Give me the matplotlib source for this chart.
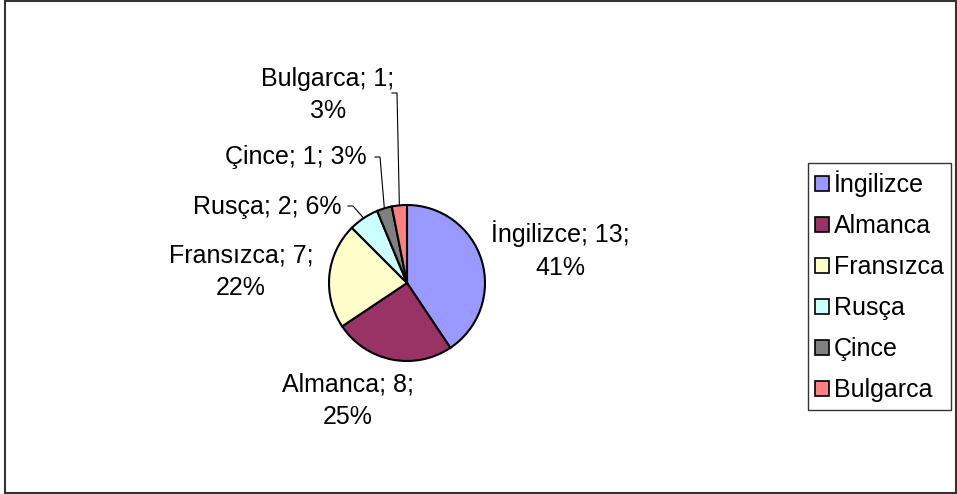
import numpy as np
import matplotlib
matplotlib.use('Agg')
import matplotlib.pyplot as plt
from matplotlib.patches import Rectangle, Patch

# Data
languages = ["İngilizce", "Almanca", "Fransızca", "Rusça", "Çince", "Bulgarca"]
counts = [13, 8, 7, 2, 1, 1]
percents = [41, 25, 22, 6, 3, 3]
colors = ["#9999FF", "#993366", "#FFFFCC", "#CCFFFF", "#808080", "#FF8080"]

plt.rcParams['font.family'] = ['Liberation Sans', 'DejaVu Sans']
size = 18

W, H = 957, 494
fig = plt.figure(figsize=(W / 100, H / 100), dpi=100)
ax = fig.add_axes([0, 0, 1, 1])

cx, cy, r = 407, H - 283, 78
wedges, _ = ax.pie(counts, colors=colors, startangle=90, counterclock=False,
                   center=(cx, cy), radius=r,
                   wedgeprops=dict(edgecolor='black', linewidth=1.5))
ax.set_xlim(0, W)
ax.set_ylim(0, H)
ax.set_aspect('auto')
ax.axis('off')

# label text = "name; count;\npercent%" (placement in pixels from top-left)
label_text = []
for name, c, p in zip(languages, counts, percents):
    s = "%s; %d; %d%%" % (name, c, p)
    if name not in ("Rusça", "Çince"):
        s = "%s; %d;\n%d%%" % (name, c, p)
    label_text.append(s)
label_pos = [(560, 250), (348, 401), (241, 272), (267, 207), (296, 157), (328, 95)]
# leader lines for small slices: (start of tick, bend point)
leaders = {3: ((348, 206), (353, 206)),
           4: ((375, 157), (380, 157)),
           5: ((392, 93), (397, 93))}

for i, w in enumerate(wedges):
    lx, ly = label_pos[i]
    ax.text(lx, H - ly, label_text[i], ha='center', va='center',
            fontsize=size, linespacing=1.45)
    if i in leaders:
        mid = np.deg2rad((w.theta1 + w.theta2) / 2)
        ex, ey = cx + r * np.cos(mid), cy + r * np.sin(mid)
        (x0, y0), (x1, y1) = leaders[i]
        ax.plot([x0, x1, ex], [H - y0, H - y1, ey], color='black', lw=0.8)

handles = [Patch(facecolor=c, edgecolor='black', linewidth=1.2) for c in colors]
leg = fig.legend(handles, languages, loc='center',
                 bbox_to_anchor=(879.5 / W, 1 - 286.5 / H),
                 fontsize=size, frameon=True, fancybox=False,
                 handlelength=0.55, handleheight=0.55, handletextpad=0.2,
                 labelspacing=0.68, borderpad=0.3, borderaxespad=0)
leg.get_frame().set_edgecolor('black')
leg.get_frame().set_linewidth(1.0)

# outer chart border
fig.patches.append(Rectangle((5 / W, 1.5 / H), 950.5 / W, 491 / H,
                             transform=fig.transFigure, fill=False,
                             edgecolor='#333333', linewidth=1.5))

fig.savefig("out.png", dpi=100)
